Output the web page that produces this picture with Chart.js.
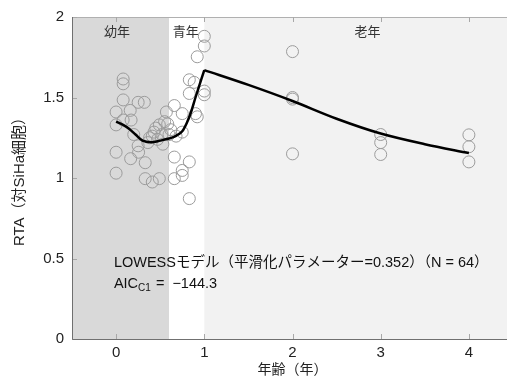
<!DOCTYPE html>
<html><head><meta charset="utf-8">
<script src="https://cdn.jsdelivr.net/npm/chart.js@4"></script>
<style>
html,body{margin:0;padding:0;background:#fff;overflow:hidden;}
#wrap{width:520px;height:384px;}
</style></head>
<body><div id="wrap"><canvas id="c" width="520" height="384"></canvas></div>
<script>
// ---- data ----
const ageYears = [
  0.0,0.0,0.0,0.0,
  0.08,0.08,0.08,0.08,
  0.16,0.17,0.25,0.32,
  0.165,0.25,0.255,0.33,0.33,0.41,0.49,
  0.41,0.43,0.49,0.53,0.585,0.57,
  0.66,0.75,0.90,0.92,0.75,
  0.66,0.83,0.75,0.75,0.66,0.83,
  0.83,0.885,0.92,1.0,1.0,1.0,1.0,0.83,
  0.45,0.52,0.55,0.60,0.47,0.36,0.62,0.38,0.20,0.68,
  2,2,2,2, 3,3,3, 4,4,4
];
const rtaValues = [
  1.41,1.33,1.16,1.03,
  1.615,1.585,1.485,1.36,
  1.42,1.36,1.47,1.47,
  1.12,1.20,1.16,1.095,0.996,0.975,0.996,
  1.26,1.285,1.33,1.21,1.336,1.41,
  1.45,1.40,1.40,1.38,1.285,
  1.13,1.10,1.047,1.016,0.996,0.872,
  1.61,1.594,1.753,1.88,1.82,1.54,1.517,1.525,
  1.31,1.27,1.35,1.27,1.24,1.22,1.30,1.25,1.27,1.26,
  1.785,1.49,1.50,1.15, 1.27,1.22,1.146, 1.268,1.194,1.10
];
// LOWESS curve, split at its peak (x = 1)
const lowessX = [0, 0.08, 0.15, 0.22, 0.3, 0.4, 0.5, 0.6, 0.68, 0.75, 0.8, 0.85, 0.9, 1.0, 1.5, 2, 2.5, 3, 3.5, 4];
const lowessY = [1.35, 1.33, 1.305, 1.27, 1.232, 1.222, 1.232, 1.245, 1.262, 1.29, 1.34, 1.41, 1.50, 1.67, 1.578, 1.478, 1.368, 1.276, 1.21, 1.155];
const lowessPeakX = 1.0;
const xTickValues = [0, 1, 2, 3, 4];
const yTickValues = [0, 0.5, 1, 1.5, 2];
const regionBounds = [-0.5, 0.6, 1.0, 4.5];
const regionColors = ['#d9d9d9', '#ffffff', '#f2f2f2'];
const regionLabels = ['幼年', '青年', '老年'];
const regionLabelX = [0.01, 0.79, 2.85];
const noteLine1 = 'LOWESSモデル（平滑化パラメーター=0.352）（N = 64）';
const noteAIC = ['AIC', 'C1', ' =  −144.3'];
const xTitle = '年齢（年）';
const yTitle = 'RTA（対SiHa細胞）';

const FONT = '"Liberation Sans", Arial, "Noto Sans CJK JP", sans-serif';

const points = ageYears.map((x, i) => ({x, y: rtaValues[i]}));
const lowess = lowessX.map((x, i) => ({x, y: lowessY[i]}));
const lowessLeft = lowess.filter(p => p.x <= lowessPeakX);
const lowessRight = lowess.filter(p => p.x >= lowessPeakX);

const decor = {
  id: 'decor',
  beforeDatasetsDraw(chart) {
    const {ctx, chartArea: a, scales: {x, y}} = chart;
    ctx.save();
    for (let i = 0; i < regionColors.length; i++) {
      const l = x.getPixelForValue(regionBounds[i]);
      const r = x.getPixelForValue(regionBounds[i + 1]);
      ctx.fillStyle = regionColors[i];
      ctx.fillRect(l, a.top, r - l, a.bottom - a.top);
    }
    ctx.fillStyle = '#333';
    ctx.font = '13px ' + FONT;
    ctx.textBaseline = 'middle';
    ctx.textAlign = 'center';
    regionLabels.forEach((t, i) => {
      ctx.fillText(t, x.getPixelForValue(regionLabelX[i]), a.top + 15);
    });
    // notes
    ctx.fillStyle = '#111';
    ctx.textAlign = 'left';
    ctx.font = '14.5px ' + FONT;
    const nx = x.getPixelForValue(-0.025);
    ctx.fillText(noteLine1, nx, y.getPixelForValue(0.47));
    const ay = y.getPixelForValue(0.34);
    ctx.fillText(noteAIC[0], nx, ay);
    let w = ctx.measureText(noteAIC[0]).width;
    ctx.font = '10px ' + FONT;
    ctx.fillText(noteAIC[1], nx + w, ay + 4);
    w += ctx.measureText(noteAIC[1]).width;
    ctx.font = '14.5px ' + FONT;
    ctx.fillText(noteAIC[2], nx + w + 1, ay);
    ctx.restore();
  },
  afterDraw(chart) {
    const {ctx, chartArea: a, scales: {x, y}} = chart;
    ctx.save();
    ctx.lineWidth = 1;
    ctx.strokeStyle = '#b0b0b0';
    ctx.beginPath();
    ctx.moveTo(a.left, a.top + 0.5); ctx.lineTo(a.right, a.top + 0.5);
    ctx.stroke();
    ctx.strokeStyle = '#a8a8a8';
    xTickValues.forEach(v => {
      const p = Math.round(x.getPixelForValue(v)) + 0.5;
      ctx.beginPath();
      ctx.moveTo(p, a.bottom); ctx.lineTo(p, a.bottom - 5);
      ctx.moveTo(p, a.top); ctx.lineTo(p, a.top + 5);
      ctx.stroke();
    });
    yTickValues.forEach(v => {
      const p = Math.round(y.getPixelForValue(v)) + 0.5;
      ctx.beginPath();
      ctx.moveTo(a.left, p); ctx.lineTo(a.left + 5, p);
      ctx.stroke();
    });
    ctx.strokeStyle = '#707070';
    ctx.beginPath();
    ctx.moveTo(a.left + 0.5, a.top); ctx.lineTo(a.left + 0.5, a.bottom + 0.5);
    ctx.lineTo(a.right, a.bottom + 0.5);
    ctx.stroke();
    ctx.restore();
  }
};

const lineStyle = {
  showLine: true, pointRadius: 0, borderColor: '#000', backgroundColor: '#000',
  borderWidth: 2.5, cubicInterpolationMode: 'monotone', order: 0
};

new Chart(document.getElementById('c'), {
  type: 'scatter',
  data: {
    datasets: [
      Object.assign({data: lowessLeft}, lineStyle),
      Object.assign({data: lowessRight}, lineStyle),
      {
        data: points, pointRadius: 6, pointBorderWidth: 1,
        pointBorderColor: '#9c9c9c', pointBackgroundColor: 'rgba(0,0,0,0)',
        showLine: false, order: 1
      }
    ]
  },
  options: {
    responsive: false,
    animation: false,
    layout: {padding: {top: 16, right: 3, left: 0, bottom: 0}},
    plugins: {legend: {display: false}, tooltip: {enabled: false}},
    scales: {
      x: {
        type: 'linear', min: -0.5, max: 4.5,
        afterBuildTicks: s => { s.ticks = xTickValues.map(v => ({value: v})); },
        afterFit: s => { s.height = 45; },
        grid: {display: false, drawTicks: false}, border: {display: false},
        ticks: {color: '#222', font: {size: 15, family: FONT}, padding: 5, callback: v => String(v)},
        title: {display: true, text: xTitle, color: '#222', font: {size: 14, family: FONT}, padding: {top: 0, bottom: 5}}
      },
      y: {
        type: 'linear', min: 0, max: 2,
        afterBuildTicks: s => { s.ticks = yTickValues.map(v => ({value: v})); },
        afterFit: s => { s.width = 72; },
        grid: {display: false, drawTicks: false}, border: {display: false},
        ticks: {color: '#222', font: {size: 15, family: FONT}, padding: 8, callback: v => String(v)},
        title: {display: true, text: yTitle, color: '#222', font: {size: 15, family: FONT}, padding: {top: 11, bottom: 0}}
      }
    }
  },
  plugins: [decor]
});
</script></body></html>
